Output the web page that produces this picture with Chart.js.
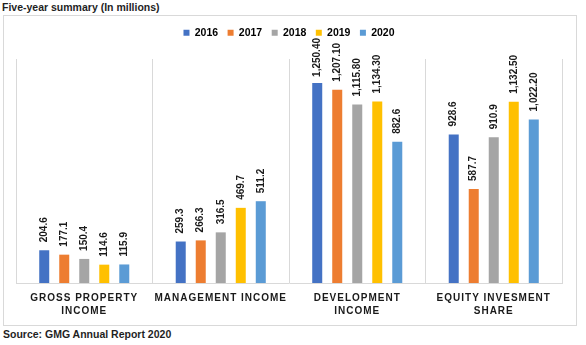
<!DOCTYPE html>
<html>
<head>
<meta charset="utf-8">
<script src="https://cdn.jsdelivr.net/npm/chart.js@4"></script>
<style>
  html, body { margin: 0; padding: 0; background: #fff; }
  #wrap { position: relative; width: 586px; height: 345px; overflow: hidden;
    font-family: 'Liberation Sans', Arial, sans-serif; font-weight: bold; color: #1f1f1f; }
  .title, .source { position: absolute; font-size: 10.5px; line-height: 12px; white-space: nowrap; }
  .title { left: 2px; top: 1px; }
  .source { left: 3px; top: 328px; }
  .frame { position: absolute; left: 3px; top: 15px; width: 572px; height: 309px; border: 1px solid #d9d9d9; }
  canvas { position: absolute; left: 0; top: 0; }
</style>
</head>
<body>
<div id="wrap">
  <div class="title">Five-year summary (In millions)</div>
  <div class="frame"></div>
  <div class="source">Source: GMG Annual Report 2020</div>
  <canvas id="chart" width="586" height="345"></canvas>
</div>
<script>
const CATEGORIES = [
  ['GROSS PROPERTY', 'INCOME'],
  ['MANAGEMENT INCOME'],
  ['DEVELOPMENT', 'INCOME'],
  ['EQUITY INVESMENT', 'SHARE'],
];
const YEARS = ['2016', '2017', '2018', '2019', '2020'];

const VALUES_2016 = [204.6, 259.3, 1250.40, 928.6];
const VALUES_2017 = [177.1, 266.3, 1207.10, 587.7];
const VALUES_2018 = [150.4, 316.5, 1115.80, 910.9];
const VALUES_2019 = [114.6, 469.7, 1134.30, 1132.50];
const VALUES_2020 = [115.9, 511.2, 882.6, 1022.20];

const COLORS = ['#4472C4', '#ED7D31', '#A5A5A5', '#FFC000', '#5B9BD5'];
const FONT = '"Liberation Sans", Arial, sans-serif';
const TEXT_COLOR = '#1a1a1a';
const GRID_COLOR = '#d9d9d9';

function formatValue(v) {
  if (v >= 1000) return v.toLocaleString('en-US', { minimumFractionDigits: 2, maximumFractionDigits: 2 });
  return v.toFixed(1);
}

// rotated value labels above each bar
const barLabels = {
  id: 'barLabels',
  afterDatasetsDraw(chart) {
    const { ctx } = chart;
    ctx.save();
    ctx.font = `bold 10px ${FONT}`;
    ctx.fillStyle = TEXT_COLOR;
    ctx.textAlign = 'left';
    ctx.textBaseline = 'middle';
    chart.data.datasets.forEach((ds, di) => {
      chart.getDatasetMeta(di).data.forEach((bar, i) => {
        const text = formatValue(ds.data[i]);
        const w = ctx.measureText(text).width;
        let start = bar.y - 8;
        if (start - w < 38) start = 38 + w; // Excel pushes the tallest label back inside
        ctx.save();
        ctx.translate(bar.x, start);
        ctx.rotate(-Math.PI / 2);
        ctx.fillText(text, 0, 0);
        ctx.restore();
      });
    });
    ctx.restore();
  },
};

// spaced-out category names under the axis
const categoryLabels = {
  id: 'categoryLabels',
  afterDraw(chart) {
    const { ctx } = chart;
    const x = chart.scales.x;
    ctx.save();
    ctx.font = `bold 10px ${FONT}`;
    ctx.letterSpacing = '1px';
    ctx.fillStyle = TEXT_COLOR;
    ctx.textAlign = 'center';
    ctx.textBaseline = 'alphabetic';
    CATEGORIES.forEach((lines, i) => {
      const cx = x.getPixelForValue(i);
      lines.forEach((line, j) => ctx.fillText(line, cx, x.bottom + 18 + j * 12.5));
    });
    ctx.restore();
  },
};

const series = [VALUES_2016, VALUES_2017, VALUES_2018, VALUES_2019, VALUES_2020];

new Chart(document.getElementById('chart'), {
  type: 'bar',
  data: {
    labels: CATEGORIES,
    datasets: YEARS.map((year, i) => ({
      label: year,
      data: series[i],
      backgroundColor: COLORS[i],
      borderWidth: 0,
      categoryPercentage: 0.733,
      barPercentage: 0.5,
    })),
  },
  options: {
    responsive: false,
    animation: false,
    layout: { padding: { left: 16, right: 24, top: 18, bottom: 62 } },
    plugins: {
      legend: {
        position: 'top',
        labels: {
          boxWidth: 6,
          boxHeight: 6,
          padding: 9.5,
          color: '#000',
          font: { family: FONT, size: 10.5, weight: 'bold' },
        },
      },
      tooltip: { enabled: false },
    },
    scales: {
      x: {
        offset: true,
        grid: { display: true, offset: true, color: GRID_COLOR, lineWidth: 1, drawTicks: false },
        border: { display: true, color: GRID_COLOR },
        ticks: { display: false },
      },
      // empty spacer axis: keeps the gap between legend and plot
      xTop: {
        type: 'category',
        position: 'top',
        grid: { display: false },
        border: { display: false },
        ticks: { display: false },
        afterFit: (scale) => { scale.height = 11; },
      },
      y: {
        display: false,
        min: 0,
        max: 1400,
      },
    },
  },
  plugins: [barLabels, categoryLabels],
});
</script>
</body>
</html>
